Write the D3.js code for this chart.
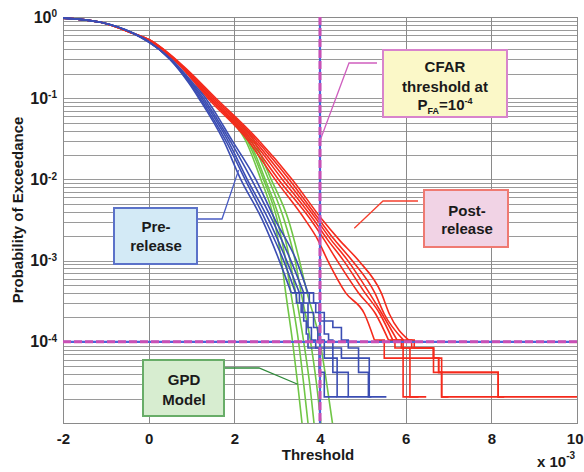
<!DOCTYPE html>
<html>
<head>
<meta charset="utf-8">
<script src="https://cdn.jsdelivr.net/npm/d3@7"></script>
<style>
  body { margin: 0; background: #fff; }
  svg text { font-family: "Liberation Sans", Arial, sans-serif; font-weight: bold; fill: #1a1a1a; }
</style>
</head>
<body>
<div class="chart"></div>
<script>
// tick values
var xTicks = [-2, 0, 2, 4, 6, 8, 10];
var yTickExp = [0, -1, -2, -3, -4];

// pre-release curves (blue): thresholds (x1e-3) at shared probability levels
var preLevels = [0.97, 0.86, 0.63, 0.5, 0.3, 0.15, 0.1, 0.03, 0.01, 0.0032, 0.001, 4e-4];
var preThresh = [
  [-2, -1.12, -0.35, 0.00, 0.50, 0.95, 1.17, 1.75, 2.15, 2.65, 3.05, 3.33],
  [-2, -1.12, -0.36, -0.01, 0.50, 0.97, 1.20, 1.80, 2.25, 2.72, 3.15, 3.43],
  [-2, -1.12, -0.36, -0.02, 0.52, 1.00, 1.24, 1.85, 2.30, 2.80, 3.22, 3.52],
  [-2, -1.12, -0.36, -0.02, 0.52, 1.02, 1.28, 1.90, 2.40, 2.88, 3.32, 3.62],
  [-2, -1.12, -0.37, -0.03, 0.53, 1.05, 1.33, 1.95, 2.50, 2.95, 3.45, 3.72]
];
// empirical tails (step after each point)
var preTails = [
  [[3.33, 4e-4], [3.45, 3.0e-4], [3.56, 2.3e-4], [3.62, 1.8e-4], [3.68, 1.25e-4], [3.72, 8.4e-5], [3.98, 4.2e-5], [4.1, 2.1e-5], [4.4, 2.1e-5]],
  [[3.43, 4e-4], [3.52, 3.0e-4], [3.6, 2.3e-4], [3.72, 1.5e-4], [3.8, 1.05e-4], [3.9, 8.4e-5], [4.1, 6.3e-5], [4.3, 4.2e-5], [4.4, 2.1e-5], [4.66, 2.1e-5]],
  [[3.52, 4e-4], [3.62, 3.0e-4], [3.72, 2.3e-4], [3.85, 1.5e-4], [3.95, 1.05e-4], [4.1, 8.4e-5], [4.3, 6.3e-5], [4.4, 4.2e-5], [4.66, 2.1e-5], [5.13, 2.1e-5]],
  [[3.62, 4e-4], [3.75, 3.0e-4], [3.9, 2.3e-4], [3.98, 1.8e-4], [4.1, 1.25e-4], [4.2, 1.05e-4], [4.3, 8.4e-5], [4.5, 6.3e-5], [4.9, 4.2e-5], [5.13, 2.1e-5], [5.2, 2.1e-5]],
  [[3.72, 4e-4], [3.85, 3.0e-4], [3.98, 2.3e-4], [4.1, 1.8e-4], [4.3, 1.5e-4], [4.5, 1.05e-4], [4.66, 8.4e-5], [4.9, 6.3e-5], [5.15, 4.2e-5], [5.15, 2.1e-5], [5.55, 2.1e-5]]
];

// post-release curves (red)
var postLevels = [0.97, 0.86, 0.63, 0.52, 0.26, 0.1, 0.031, 0.01, 3.2e-3, 1.8e-3, 1e-3, 4e-4, 2.2e-4, 1.05e-4];
var postThresh = [
  [-2, -1.12, -0.38, 0.00, 0.70, 1.38, 2.30, 2.95, 3.65, 3.95, 4.18, 4.60, 5.04, 5.27],
  [-2, -1.12, -0.38, 0.00, 0.71, 1.42, 2.35, 3.03, 3.78, 4.10, 4.40, 4.90, 5.30, 5.60],
  [-2, -1.12, -0.37, 0.01, 0.72, 1.45, 2.40, 3.12, 3.85, 4.18, 4.55, 5.05, 5.40, 5.70],
  [-2, -1.12, -0.37, 0.02, 0.74, 1.49, 2.45, 3.20, 3.92, 4.26, 4.65, 5.15, 5.45, 5.80],
  [-2, -1.12, -0.36, 0.02, 0.75, 1.53, 2.50, 3.28, 3.98, 4.34, 4.75, 5.28, 5.50, 5.95],
  [-2, -1.12, -0.36, 0.03, 0.77, 1.57, 2.55, 3.35, 4.05, 4.45, 4.90, 5.43, 5.62, 6.07]
];
var postTails = [
  [[5.27, 1.05e-4], [5.5, 6.3e-5], [6.65, 4.2e-5], [6.84, 2.1e-5], [10, 2.1e-5]],
  [[5.6, 1.05e-4], [5.75, 8.4e-5], [6.65, 6.3e-5], [6.77, 4.2e-5], [8.16, 2.1e-5], [8.3, 2.1e-5]],
  [[5.7, 1.05e-4], [5.94, 2.1e-5], [6.48, 2.1e-5]],
  [[5.8, 1.05e-4], [5.9, 8.4e-5], [6.1, 2.1e-5], [6.3, 2.1e-5]],
  [[5.95, 1.05e-4], [6.14, 8.4e-5], [6.65, 6.3e-5], [6.77, 4.2e-5], [6.84, 2.1e-5], [7.0, 2.1e-5]],
  [[6.07, 1.05e-4], [6.2, 8.4e-5], [6.65, 6.3e-5], [6.84, 4.2e-5], [8.16, 2.1e-5], [8.2, 2.1e-5]]
];

// GPD model curves (green)
var gpdLevels = [0.06, 0.031, 0.01, 3.2e-3, 1e-3, 4e-4, 1e-4, 3e-5, 1e-5];
var gpdThresh = [
  [1.82, 2.25, 2.62, 2.93, 3.10, 3.20, 3.36, 3.48, 3.58],
  [1.85, 2.29, 2.68, 3.00, 3.20, 3.32, 3.50, 3.62, 3.72],
  [1.88, 2.33, 2.72, 3.06, 3.30, 3.43, 3.62, 3.76, 3.86],
  [1.92, 2.38, 2.80, 3.16, 3.42, 3.56, 3.78, 3.92, 4.02],
  [1.96, 2.44, 2.86, 3.26, 3.52, 3.70, 4.00, 4.16, 4.29]
];

var cfarT = 4, cfarP = 1e-4;

var colors = { pre: "#3b4db3", post: "#f52a1c", gpd: "#70c646" };

var margin = { top: 17, right: 7, bottom: 49, left: 63 },
    width = 584 - margin.left - margin.right,
    height = 472 - margin.top - margin.bottom;

var x = d3.scaleLinear().domain([-2, 10]).range([0, width]);
var y = d3.scaleLog().domain([1e-5, 1]).range([height, 0]);

var root = d3.select(".chart").append("svg")
    .attr("width", 584)
    .attr("height", 472);

var svg = root.append("g")
    .attr("transform", "translate(" + margin.left + "," + margin.top + ")");

svg.append("defs").append("clipPath").attr("id", "clip")
  .append("rect").attr("width", width).attr("height", height);

// grid
svg.append("g").selectAll("line")
  .data(y.ticks())
  .enter().append("line")
  .attr("x1", 0).attr("x2", width)
  .attr("y1", function(d) { return Math.round(y(d)) + 0.5; })
  .attr("y2", function(d) { return Math.round(y(d)) + 0.5; })
  .attr("stroke", "#9a9a9a").attr("stroke-width", 1);

svg.append("g").selectAll("line")
  .data(xTicks)
  .enter().append("line")
  .attr("x1", function(d) { return Math.round(x(d)) + 0.5; })
  .attr("x2", function(d) { return Math.round(x(d)) + 0.5; })
  .attr("y1", 0).attr("y2", height)
  .attr("stroke", "#8a8a8a").attr("stroke-width", 1);

svg.append("rect")
  .attr("x", 0.5).attr("y", 0.5)
  .attr("width", width).attr("height", height)
  .attr("fill", "none").attr("stroke", "#8a8a8a");

// curves
var smooth = d3.line()
    .curve(d3.curveMonotoneX)
    .x(function(d) { return x(d[0]); })
    .y(function(d) { return y(d[1]); });

var step = d3.line()
    .curve(d3.curveStepAfter)
    .x(function(d) { return x(d[0]); })
    .y(function(d) { return y(d[1]); });

function pairs(levels, ts) {
  return ts.map(function(t, i) { return [t, levels[i]]; });
}

var curves = svg.append("g").attr("clip-path", "url(#clip)")
    .attr("fill", "none").attr("stroke-width", 1.6);

curves.selectAll(".gpd")
  .data(gpdThresh)
  .enter().append("path")
  .attr("class", "gpd")
  .attr("stroke", colors.gpd)
  .attr("d", function(ts) { return smooth(pairs(gpdLevels, ts)); });

postThresh.forEach(function(ts, i) {
  curves.append("path").attr("stroke", colors.post).attr("d", smooth(pairs(postLevels, ts)));
  curves.append("path").attr("stroke", colors.post).attr("d", step(postTails[i]));
});

preThresh.forEach(function(ts, i) {
  curves.append("path").attr("stroke", colors.pre).attr("d", smooth(pairs(preLevels, ts)));
  curves.append("path").attr("stroke", colors.pre).attr("d", step(preTails[i]));
});

// CFAR threshold lines
function dashedLine(x1, y1, x2, y2) {
  svg.append("line").attr("x1", x1).attr("y1", y1).attr("x2", x2).attr("y2", y2)
    .attr("stroke", "#4a66d8").attr("stroke-width", 2.2);
  svg.append("line").attr("x1", x1).attr("y1", y1).attr("x2", x2).attr("y2", y2)
    .attr("stroke", "#c94fb4").attr("stroke-width", 3).attr("stroke-dasharray", "8,3");
}
dashedLine(0, y(cfarP), width, y(cfarP));
dashedLine(x(cfarT), 0, x(cfarT), height);

// axes
var xAxis = d3.axisBottom(x).tickValues(xTicks).tickSize(0).tickPadding(10)
    .tickFormat(d3.format("d"));
var gx = svg.append("g")
    .attr("transform", "translate(0," + height + ")")
    .call(xAxis);
gx.select(".domain").remove();
gx.selectAll("text").style("font-size", "15px").attr("fill", "#1a1a1a")
  .text(function(d) { return d < 0 ? "-" + Math.abs(d) : d; })
  .filter(function(d) { return d === 10; })
  .attr("text-anchor", "end").attr("x", 6);

var yAxis = d3.axisLeft(y).tickValues(yTickExp.map(function(e) { return Math.pow(10, e); }))
    .tickSize(0).tickPadding(6).tickFormat(function() { return "10"; });
var gy = svg.append("g").call(yAxis);
gy.select(".domain").remove();
gy.selectAll("text").style("font-size", "16px").attr("fill", "#1a1a1a")
  .append("tspan").attr("dy", "-0.55em").style("font-size", "10px")
  .text(function(d) { return Math.round(Math.log10(d)); });

// axis titles
root.append("text")
  .attr("x", 318).attr("y", 460)
  .attr("text-anchor", "middle")
  .style("font-size", "15px")
  .text("Threshold");

var xm = root.append("text")
  .attr("x", 537).attr("y", 467)
  .style("font-size", "15px");
xm.append("tspan").text("x 10");
xm.append("tspan").attr("dy", -8).style("font-size", "10px").text("-3");

root.append("text")
  .attr("transform", "translate(23,210) rotate(-90)")
  .attr("text-anchor", "middle")
  .style("font-size", "15px")
  .text("Probability of Exceedance");

// annotations
function pointer(pts, color) {
  root.append("path")
    .attr("d", d3.line()(pts))
    .attr("fill", "none").attr("stroke", color).attr("stroke-width", 1.3);
}
function box(bx, by, bw, bh, fill, stroke) {
  root.append("rect")
    .attr("x", bx).attr("y", by).attr("width", bw).attr("height", bh)
    .attr("fill", fill).attr("stroke", stroke).attr("stroke-width", 2);
}
function label(cx, by, txt) {
  root.append("text").attr("x", cx).attr("y", by)
    .attr("text-anchor", "middle").style("font-size", "15px").text(txt);
}

var ox = margin.left, oy = margin.top;

// CFAR
pointer([[377, 63], [349, 63], [ox + x(cfarT), oy + y(0.03)]], "#cf5fbf");
box(383, 50, 124, 67, "#fbf8c8", "#d884cc");
label(445, 72, "CFAR");
label(445, 92, "threshold at");
var pfa = root.append("text").attr("x", 445).attr("y", 110)
  .attr("text-anchor", "middle").style("font-size", "15px");
pfa.append("tspan").text("P");
pfa.append("tspan").attr("dy", 4).style("font-size", "9px").text("FA");
pfa.append("tspan").attr("dy", -4).text("=10");
pfa.append("tspan").attr("dy", -6).style("font-size", "9px").text("-4");

// Post-release
pointer([[418, 201], [383, 201], [ox + x(4.8), oy + y(2.5e-3)]], "#f5402e");
box(424, 190, 84, 57, "#f1d3e5", "#ef7a72");
label(467, 216, "Post-");
label(467, 234, "release");

// Pre-release
pointer([[198, 219], [222, 219], [ox + x(2.1), oy + y(0.013)]], "#4a5cc4");
box(114, 208, 83, 56, "#d3eaf6", "#5b72c9");
label(156, 232, "Pre-");
label(156, 251, "release");

// GPD model
pointer([[224, 368], [259, 368], [ox + x(3.48), oy + y(3e-5)]], "#2f8a3a");
box(143, 360, 81, 56, "#d7edd0", "#68ad68");
label(184, 385, "GPD");
label(184, 405, "Model");
</script>
</body>
</html>
